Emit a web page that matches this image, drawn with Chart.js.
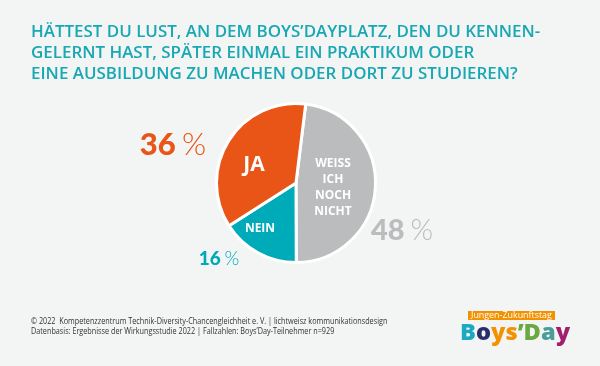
<!DOCTYPE html>
<html><head><meta charset="utf-8">
<script src="https://cdn.jsdelivr.net/npm/chart.js@4/dist/chart.umd.min.js"></script>
<style>
html,body{margin:0;padding:0;background:#f3f4f4;}
#wrap{position:relative;width:600px;height:366px;overflow:hidden;background:#f3f4f4;font-family:"Open Sans",sans-serif;}
#c{position:absolute;left:0;top:0;}
.fit{position:absolute;white-space:nowrap;transform-origin:0 0;line-height:1;}
.t{left:31px;color:#17a8b4;font-size:17px;font-weight:600;}
.f{left:31px;color:#333;font-size:9px;font-weight:400;}
#tag{position:absolute;left:468px;top:311px;width:87px;height:9px;background:#f39200;}
#tagtxt{left:471px;top:310px;color:#fff;font-size:9px;font-weight:500;}
#boys{left:460px;top:320px;font-size:23px;font-weight:800;font-family:"Open Sans",sans-serif;}
</style></head>
<body><div id="wrap">
<canvas id="c" width="600" height="366"></canvas>
<div class="fit t" style="top:22px" data-w="509">HÄTTEST DU LUST, AN DEM BOYS’DAYPLATZ, DEN DU KENNEN-</div>
<div class="fit t" style="top:43px" data-ref="0">GELERNT HAST, SPÄTER EINMAL EIN PRAKTIKUM ODER</div>
<div class="fit t" style="top:64px" data-ref="0">EINE AUSBILDUNG ZU MACHEN ODER DORT ZU STUDIEREN?</div>
<div class="fit f" style="top:316px" data-w="356">© 2022&nbsp; Kompetenzzentrum Technik-Diversity-Chancengleichheit e. V. | lichtweisz kommunikationsdesign</div>
<div class="fit f" style="top:326px" data-ref="3">Datenbasis: Ergebnisse der Wirkungsstudie 2022 | Fallzahlen: Boys’Day-Teilnehmer n=929</div>
<div id="tag"></div>
<div class="fit" id="tagtxt" data-w="81">Jungen-Zukunftstag</div>
<div class="fit" id="boys" data-w="110"><span style="color:#1aa9c0">B</span><span style="color:#2b2d6b">o</span><span style="color:#f39200">y</span><span style="color:#f39200">s</span><span style="color:#6aa842">’</span><span style="color:#6aa842">D</span><span style="color:#4b9d99">a</span><span style="color:#a0206e">y</span></div>
</div>
<script>
// ---- data ----
const categories = ['Weiß ich noch nicht', 'Nein', 'Ja'];
const values = [48, 16, 36];
const innerLabels = [['WEISS', 'ICH', 'NOCH', 'NICHT'], ['NEIN'], ['JA']];
const sliceColors = ['#bbbcbe', '#00abb9', '#e85516'];

// fit text widths
const fits = Array.from(document.querySelectorAll('.fit'));
const scales = [];
fits.forEach((el, i) => {
  const w = el.scrollWidth;
  let s = 1;
  if (el.dataset.w) s = (+el.dataset.w) / w;
  else if (el.dataset.ref) s = scales[+el.dataset.ref];
  scales[i] = s;
  el.style.transform = 'scaleX(' + s + ')';
});

const labelCfg = {
  inner: [
    {dx: 37, dy: -16, size: 12, lh: 16},
    {dx: -36, dy: 49, size: 12, lh: 16},
    {dx: -42, dy: -12, size: 21, lh: 20}
  ],
  outer: [
    {dx: 106, dy: 57, size: 29},
    {dx: -77, dy: 82, size: 19},
    {dx: -123, dy: -28, size: 31}
  ]
};

const labelPlugin = {
  id: 'pieLabels',
  afterDatasetsDraw(chart) {
    const ctx = chart.ctx;
    const meta = chart.getDatasetMeta(0);
    meta.data.forEach((arc, i) => {
      const cx = arc.x, cy = arc.y;
      const ic = labelCfg.inner[i];
      ctx.save();
      ctx.fillStyle = '#ffffff';
      ctx.textAlign = 'center';
      ctx.textBaseline = 'alphabetic';
      ctx.font = '700 ' + ic.size + 'px "Open Sans", sans-serif';
      innerLabels[i].forEach((ln, k) => {
        ctx.fillText(ln, cx + ic.dx, cy + ic.dy + k * ic.lh);
      });
      const oc = labelCfg.outer[i];
      const num = String(values[i]);
      const fNum = '900 ' + oc.size + 'px Lato, sans-serif';
      const fPct = '300 ' + oc.size + 'px Lato, sans-serif';
      ctx.font = fNum; const wN = ctx.measureText(num).width;
      ctx.font = fPct; const wP = ctx.measureText('%').width;
      const gap = oc.size * 0.2;
      const total = wN + gap + wP;
      const x = cx + oc.dx - total / 2;
      const y = cy + oc.dy;
      ctx.textAlign = 'left';
      ctx.fillStyle = sliceColors[i];
      ctx.font = fNum; ctx.fillText(num, x, y);
      ctx.font = fPct; ctx.fillText('%', x + wN + gap, y);
      ctx.restore();
    });
  }
};

new Chart(document.getElementById('c'), {
  type: 'pie',
  data: {
    labels: categories,
    datasets: [{
      data: values,
      backgroundColor: sliceColors,
      borderColor: '#ffffff',
      borderWidth: 3
    }]
  },
  options: {
    responsive: false,
    animation: false,
    rotation: 7,
    layout: {padding: {left: 215, right: 223, top: 102, bottom: 102}},
    plugins: {legend: {display: false}, tooltip: {enabled: false}}
  },
  plugins: [labelPlugin]
});
</script>
</body></html>
